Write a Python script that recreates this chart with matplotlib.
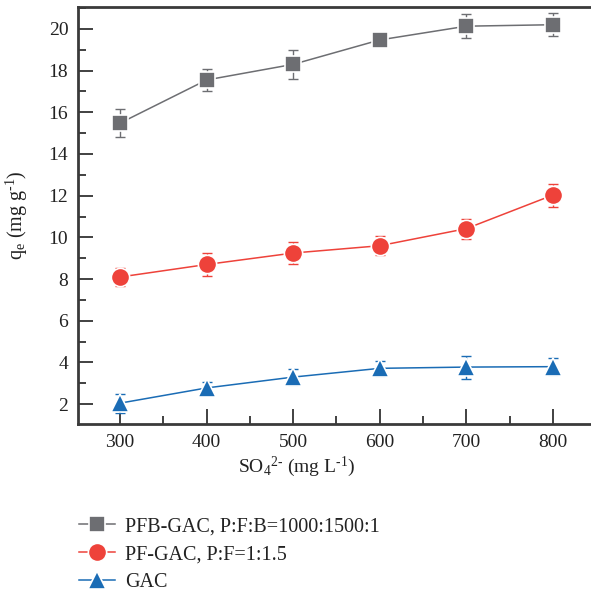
"""
Sulfate loading vs. equilibrium adsorption capacity (q_e)
"""

### Import modules
import numpy as np
import matplotlib
matplotlib.use('Agg')
import matplotlib.pyplot as plt
from matplotlib.ticker import MultipleLocator

### Data
so4 = [300, 400, 500, 600, 700, 800]
pfb_gac = [15.48, 17.55, 18.3, 19.47, 20.13, 20.2]
pfb_err = [0.67, 0.55, 0.7, 0.2, 0.57, 0.55]
pf_gac = [8.1, 8.7, 9.25, 9.6, 10.42, 12.03]
pf_err = [0.45, 0.53, 0.53, 0.45, 0.48, 0.55]
gac = [2.05, 2.78, 3.3, 3.72, 3.78, 3.8]
gac_err = [0.45, 0.3, 0.4, 0.35, 0.55, 0.4]

labels = ['PFB-GAC, P:F:B=1000:1500:1', 'PF-GAC, P:F=1:1.5', 'GAC']
colors = ['#6d6e72', '#ee423a', '#1a6cb5']
markers = ['s', 'o', '^']
msizes = [11.5, 13.2, 13.5]

### Style
plt.rcParams['font.family'] = ['Liberation Serif', 'DejaVu Serif']
plt.rcParams['mathtext.fontset'] = 'custom'
plt.rcParams['mathtext.rm'] = 'Liberation Serif'
plt.rcParams['mathtext.it'] = 'Liberation Serif:italic'
plt.rcParams['font.size'] = 14

fig = plt.figure(figsize=(5.91, 5.94), dpi=100)
ax = fig.add_axes([78/591, 1 - 424/594, 1 - 78/591, (424 - 7)/594])

handles = []
for y, e, c, m, ms, lab in zip([pfb_gac, pf_gac, gac], [pfb_err, pf_err, gac_err],
                               colors, markers, msizes, labels):
    ax.errorbar(so4, y, yerr=e, fmt='none', ecolor=c, elinewidth=1.0,
                capsize=3.8, capthick=1.0, zorder=2)
    h, = ax.plot(so4, y, color=c, lw=1.1, marker=m, ms=ms, mfc=c,
                 mec='white', mew=1.2, zorder=3, label=lab)
    handles.append(h)

### Axes
ax.set_xlim(251.5, 844)
ax.set_ylim(1.05, 21.05)
ax.xaxis.set_major_locator(MultipleLocator(100))
ax.xaxis.set_minor_locator(MultipleLocator(50))
ax.yaxis.set_major_locator(MultipleLocator(2))
ax.yaxis.set_minor_locator(MultipleLocator(1))
ax.tick_params(which='major', direction='in', length=11, width=1.3,
               color='#333333', pad=7, labelsize=14, labelcolor='#222222')
ax.tick_params(which='minor', direction='in', length=5.5, width=1.3,
               color='#333333')
ax.tick_params(top=False, right=False, which='both')
ax.spines['right'].set_visible(False)
for s in ['left', 'bottom', 'top']:
    ax.spines[s].set_linewidth(2.0)
    ax.spines[s].set_color('#3a3a3a')

ax.set_xlabel(r'SO$_4$$^{2\text{-}}$ (mg L$^{\text{-}1}$)', fontsize=14, color='#222222')
ax.xaxis.set_label_coords((297 - 78)/513, -31/417)
ax.set_ylabel(r'q$_\mathrm{e}$ (mg g$^{\text{-}1}$)', fontsize=14.5, color='#222222')
ax.yaxis.set_label_coords(-48/513, 0.5)

### Legend
fig.legend(handles=handles, loc='upper left', bbox_to_anchor=(71/591, 1 - 509/594),
           frameon=False, fontsize=14.5, handlelength=1.8, handletextpad=0.5,
           labelspacing=0.45, borderaxespad=0, labelcolor='#222222')

plt.savefig('out.png', dpi=100)
